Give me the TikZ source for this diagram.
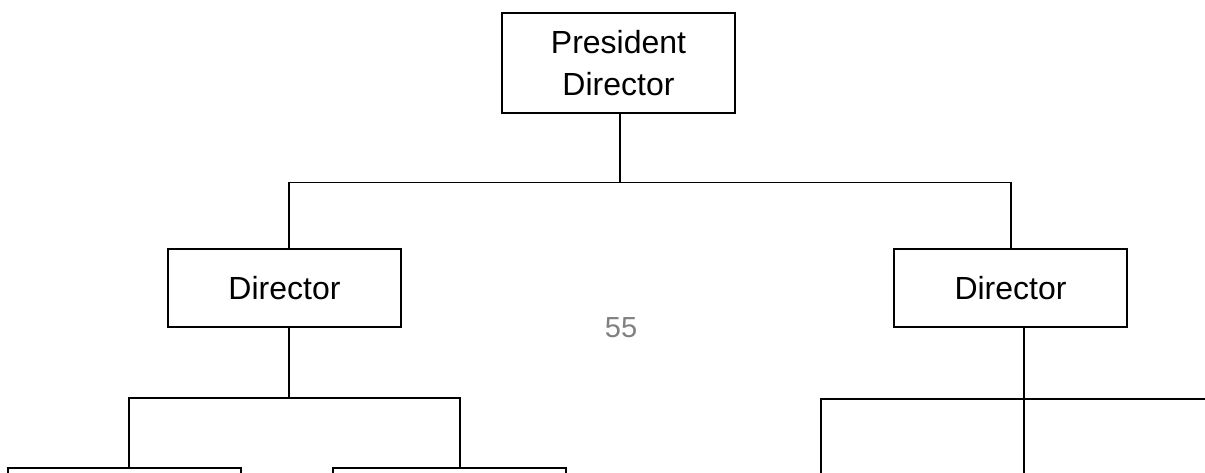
\documentclass[tikz,border=0pt]{standalone}
\usepackage{fontspec}
\setmainfont{Liberation Sans}
\begin{document}
\begin{tikzpicture}[x=1pt,y=-1pt,
  box/.style={draw=black, line width=2pt, minimum width=233pt, minimum height=78pt, inner sep=0pt, font=\fontsize{32}{42}\selectfont, align=center},
  conn/.style={draw=black, line width=1.8pt},
  pagenum/.style={text=black!50, font=\fontsize{29}{34}\selectfont}]
\useasboundingbox (0,0) rectangle (1205,472);
\clip (0,0) rectangle (1205,472);
\node[box, minimum height=100pt] (pres) at (618.5,63) {President\\Director};
\node[box] (d1) at (284.5,288) {Director};
\node[box] (d2) at (1010.5,288) {Director};
\node[box] (b1) at (124.5,507) {};
\node[box] (b2) at (449.5,507) {};
\node[pagenum] (num) at (621,327.5) {55};
% junctions
\coordinate (j0) at (620,182.5);
\coordinate (j1) at (289,182.5);
\coordinate (j2) at (1011,182.5);
\coordinate (k1) at (129,398);
\coordinate (k2) at (460,398);
\coordinate (m0) at (1024,399);
\coordinate (m1) at (821,399);
\coordinate (m2) at (1210,399);
\coordinate (e1) at (821,480);
\coordinate (e2) at (1024,480);
% connectors
\draw[conn] (pres.south -| j0) -- (j0);
\draw[conn] (d1.north -| j1) -- (j1) -- (j2) -- (d2.north -| j2);
\draw[conn] (d1.south -| j1) -- (j1 |- k1);
\draw[conn] (b1.north -| k1) -- (k1) -- (k2) -- (b2.north -| k2);
\draw[conn] (d2.south -| m0) -- (e2);
\draw[conn] (e1) -- (m1) -- (m2);
\end{tikzpicture}
\end{document}
